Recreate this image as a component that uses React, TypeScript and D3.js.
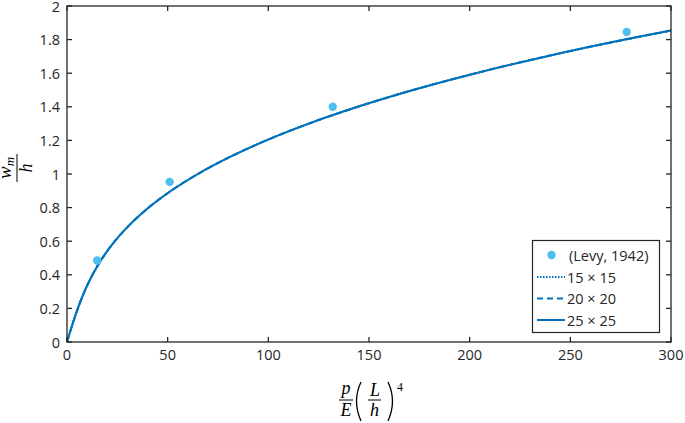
import React, { useEffect, useRef } from "react";
import * as d3 from "d3";

// reference points (Levy, 1942)
const levyLoad = [15, 51, 132, 278];
const levyDefl = [0.485, 0.953, 1.4, 1.845];

// FE curves (the three meshes coincide)
const feLoad = [0, 2.57, 5.38, 8.66, 12.66, 17.61, 23.76, 31.33, 40.57, 51.71, 65.0, 80.67, 98.96, 120.1, 144.4, 171.9, 203.1, 238.0, 277.1, 300];
const feDefl = [0, 0.1, 0.2, 0.3, 0.4, 0.5, 0.6, 0.7, 0.8, 0.9, 1.0, 1.1, 1.2, 1.3, 1.4, 1.5, 1.6, 1.7, 1.8, 1.854];

const meshLabels = ["15 \u00d7 15", "20 \u00d7 20", "25 \u00d7 25"];
const meshDash = ["1.5,1.5", "6,4", null];

const xTicks = [0, 50, 100, 150, 200, 250, 300];
const yTicks = [0, 0.2, 0.4, 0.6, 0.8, 1, 1.2, 1.4, 1.6, 1.8, 2];

const App = () => {
  const svgRef = useRef(null);
  const width = 685;
  const height = 423;
  const margin = { top: 6, right: 14, bottom: 81, left: 67 };
  const lineColor = "#0072BD";
  const dotColor = "#4DBEEE";
  const axisColor = "#262626";
  const tickFont = "'Open Sans', 'Noto Sans', sans-serif";
  const mathFont = "'Liberation Serif', 'DejaVu Serif', serif";

  useEffect(() => {
    const svg = d3.select(svgRef.current);
    svg.selectAll("*").remove();

    const x = d3.scaleLinear().domain([0, 300]).range([margin.left, width - margin.right]);
    const y = d3.scaleLinear().domain([0, 2]).range([height - margin.bottom, margin.top]);
    const x0 = x.range()[0], x1 = x.range()[1];
    const y0 = y.range()[0], y1 = y.range()[1];

    const line = d3
      .line()
      .x((d) => x(d[0]))
      .y((d) => y(d[1]))
      .curve(d3.curveMonotoneX);
    const pts = feLoad.map((v, i) => [v, feDefl[i]]);

    const plot = svg.append("g");
    meshLabels.forEach((m, i) => {
      plot
        .append("path")
        .attr("d", line(pts))
        .attr("fill", "none")
        .attr("stroke", lineColor)
        .attr("stroke-width", 2)
        .attr("stroke-dasharray", meshDash[i]);
    });

    plot
      .selectAll("circle")
      .data(levyLoad)
      .join("circle")
      .attr("cx", (d) => x(d))
      .attr("cy", (d, i) => y(levyDefl[i]))
      .attr("r", 4.2)
      .attr("fill", dotColor);

    // axes box with inward ticks on all sides
    const ax = svg.append("g").attr("stroke", axisColor).attr("stroke-width", 1.3);
    ax.append("rect")
      .attr("x", x0)
      .attr("y", y1)
      .attr("width", x1 - x0)
      .attr("height", y0 - y1)
      .attr("fill", "none");
    const tl = 5;
    xTicks.forEach((t) => {
      ax.append("line").attr("x1", x(t)).attr("x2", x(t)).attr("y1", y0).attr("y2", y0 - tl);
      ax.append("line").attr("x1", x(t)).attr("x2", x(t)).attr("y1", y1).attr("y2", y1 + tl);
    });
    yTicks.forEach((t) => {
      ax.append("line").attr("x1", x0).attr("x2", x0 + tl).attr("y1", y(t)).attr("y2", y(t));
      ax.append("line").attr("x1", x1).attr("x2", x1 - tl).attr("y1", y(t)).attr("y2", y(t));
    });

    svg
      .append("g")
      .selectAll("text")
      .data(xTicks)
      .join("text")
      .attr("x", (d) => x(d))
      .attr("y", y0 + 18)
      .attr("text-anchor", "middle")
      .attr("font-family", tickFont)
      .attr("font-size", 14.5)
      .attr("fill", axisColor)
      .text((d) => d);

    svg
      .append("g")
      .selectAll("text")
      .data(yTicks)
      .join("text")
      .attr("x", x0 - 7)
      .attr("y", (d) => y(d) + 5.5)
      .attr("text-anchor", "end")
      .attr("font-family", tickFont)
      .attr("font-size", 14.5)
      .attr("fill", axisColor)
      .text((d) => String(+d.toFixed(1)));

    // y label: w_m / h
    const yl = svg
      .append("g")
      .attr("transform", `translate(17,${(y0 + y1) / 2 - 6}) rotate(-90)`)
      .attr("font-family", mathFont)
      .attr("font-style", "italic")
      .attr("fill", "#000");
    const num = yl.append("text").attr("x", 0).attr("y", -6).attr("text-anchor", "middle").attr("font-size", 19);
    num.append("tspan").text("w");
    num.append("tspan").attr("font-size", 13).attr("dy", 2.5).text("m");
    yl.append("line").attr("x1", -14).attr("x2", 14).attr("y1", 0).attr("y2", 0).attr("stroke", "#000").attr("stroke-width", 1);
    yl.append("text").attr("x", 0).attr("y", 14.5).attr("text-anchor", "middle").attr("font-size", 18).text("h");

    // x label: p/E (L/h)^4
    const cx = (x0 + x1) / 2;
    const xl = svg
      .append("g")
      .attr("transform", `translate(${cx - 23},400)`)
      .attr("font-family", mathFont)
      .attr("font-style", "italic")
      .attr("fill", "#000");
    xl.append("text").attr("x", 0).attr("y", -6).attr("text-anchor", "middle").attr("font-size", 18).text("p");
    xl.append("line").attr("x1", -7).attr("x2", 7).attr("y1", 0).attr("y2", 0).attr("stroke", "#000").attr("stroke-width", 1);
    xl.append("text").attr("x", 0).attr("y", 15.5).attr("text-anchor", "middle").attr("font-size", 18).text("E");
    const paren = (px, dir) =>
      xl
        .append("path")
        .attr("d", `M${px + 4 * dir},-18 Q${px - 5 * dir},1 ${px + 4 * dir},21`)
        .attr("fill", "none")
        .attr("stroke", "#000")
        .attr("stroke-width", 1.3);
    paren(11, 1);
    paren(46, -1);
    xl.append("text").attr("x", 29).attr("y", -4).attr("text-anchor", "middle").attr("font-size", 18).text("L");
    xl.append("line").attr("x1", 22).attr("x2", 35).attr("y1", 0).attr("y2", 0).attr("stroke", "#000").attr("stroke-width", 1);
    xl.append("text").attr("x", 28.5).attr("y", 15.5).attr("text-anchor", "middle").attr("font-size", 18).text("h");
    xl.append("text").attr("x", 54).attr("y", -9).attr("text-anchor", "middle").attr("font-size", 12).attr("font-style", "normal").text("4");

    // legend
    const lg = svg.append("g");
    lg.append("rect")
      .attr("x", 532.5)
      .attr("y", 240.5)
      .attr("width", 127)
      .attr("height", 92)
      .attr("fill", "#fff")
      .attr("stroke", axisColor)
      .attr("stroke-width", 1.2);
    const rows = [255, 277, 298.5, 320];
    lg.append("circle").attr("cx", 551.5).attr("cy", rows[0]).attr("r", 4.2).attr("fill", dotColor);
    meshLabels.forEach((m, i) => {
      lg.append("line")
        .attr("x1", 537)
        .attr("x2", 565)
        .attr("y1", rows[i + 1])
        .attr("y2", rows[i + 1])
        .attr("stroke", lineColor)
        .attr("stroke-width", 2)
        .attr("stroke-dasharray", meshDash[i]);
    });
    const labels = ["(Levy, 1942)", ...meshLabels];
    labels.forEach((l, i) => {
      lg.append("text")
        .attr("x", i === 0 ? 569 : 567)
        .attr("y", rows[i] + 5.5)
        .attr("font-family", tickFont)
        .attr("font-size", 14.5)
        .attr("fill", axisColor)
        .text(l);
    });
  }, []);

  return (
    <svg
      ref={svgRef}
      width={width}
      height={height}
      style={{ position: "absolute", left: 0, top: 0, background: "#fff" }}
    />
  );
};

export default App;
